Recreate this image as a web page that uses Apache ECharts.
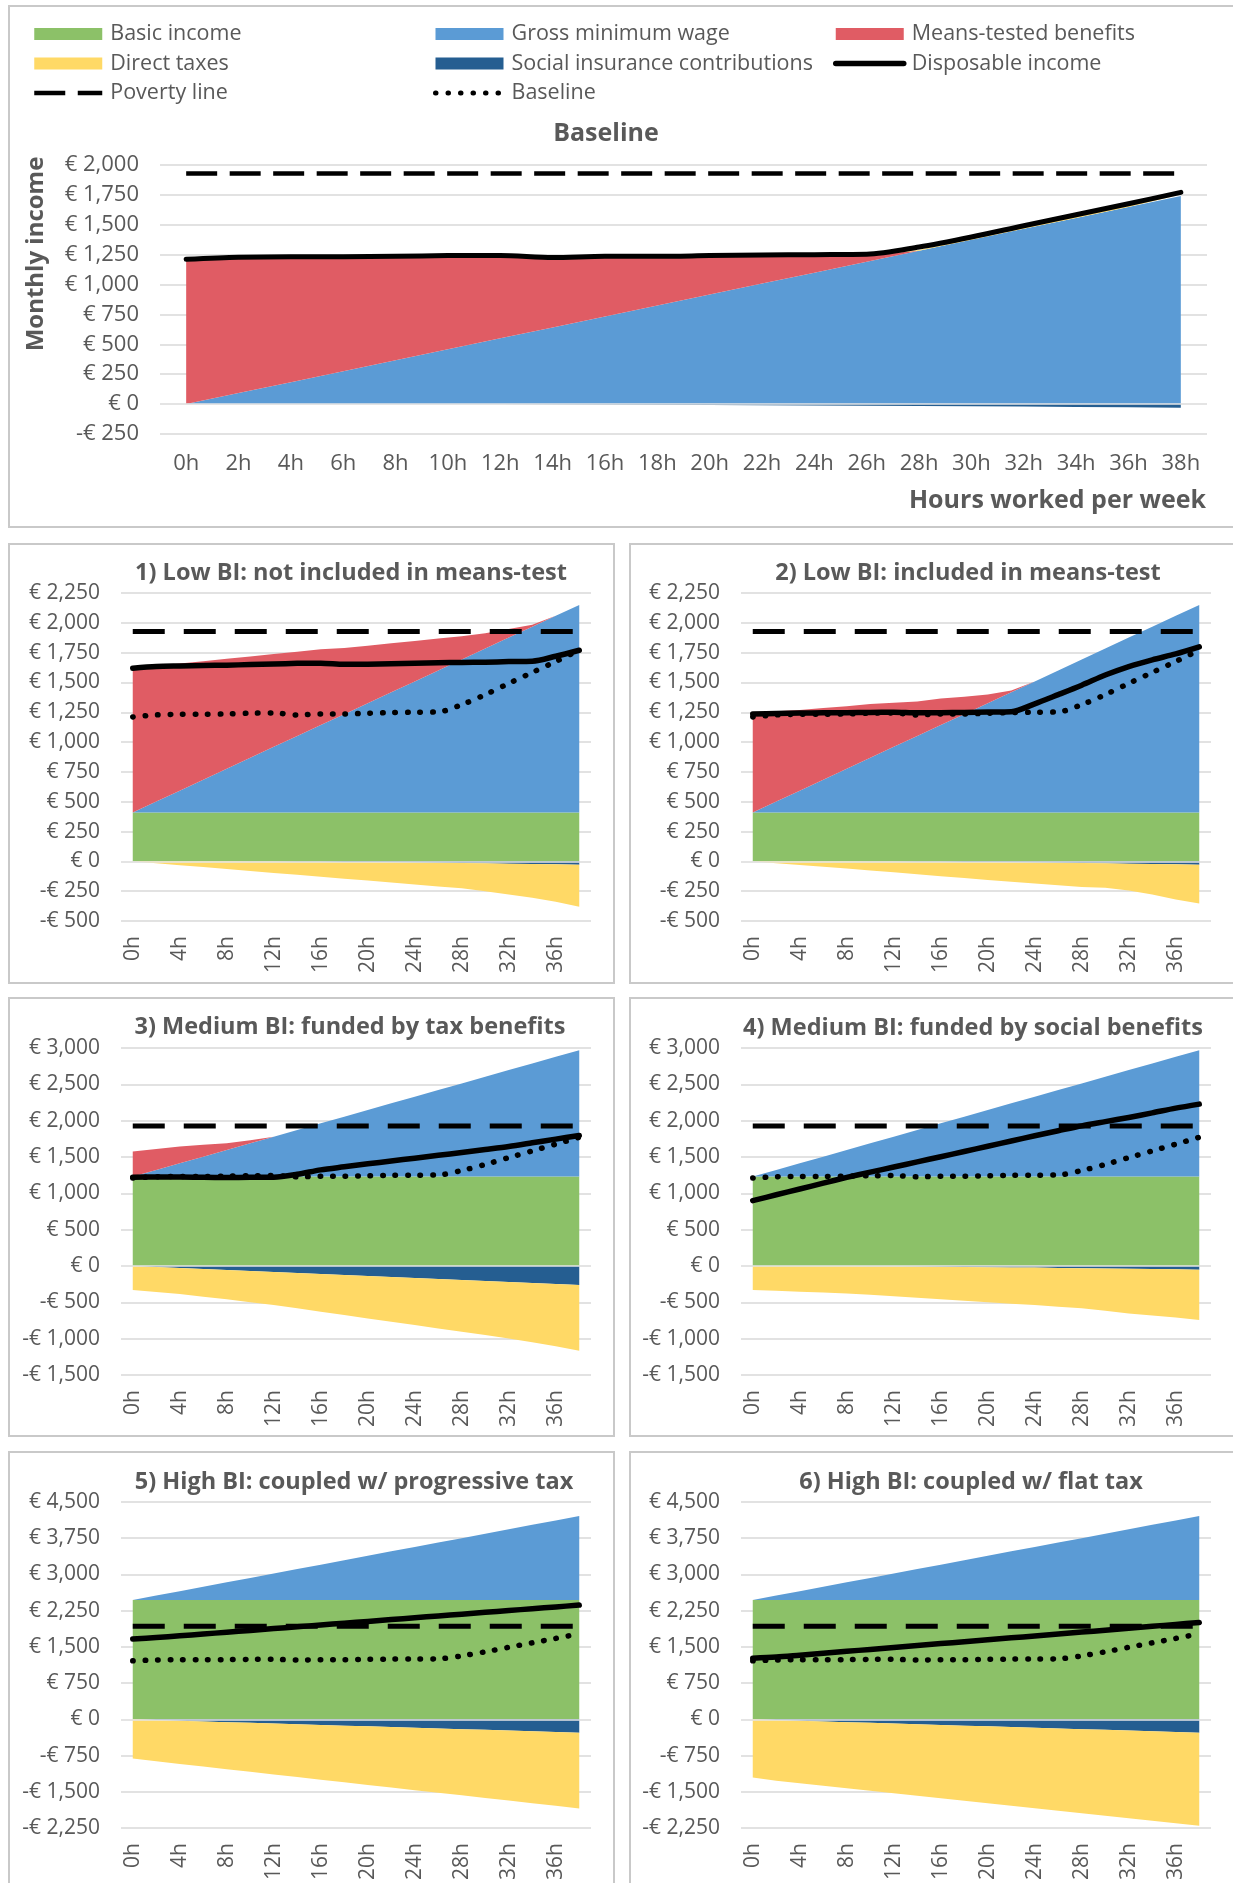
<!DOCTYPE html>
<html>
<head>
<meta charset="utf-8">
<script src="https://cdn.jsdelivr.net/npm/echarts@6/dist/echarts.min.js"></script>
<style>
html,body{margin:0;padding:0;background:#ffffff;}
#chart{width:1233px;height:1883px;}
</style>
</head>
<body>
<div id="chart"></div>
<script>
// ---------------- DATA ----------------
const hours = ['0h','2h','4h','6h','8h','10h','12h','14h','16h','18h','20h','22h','24h','26h','28h','30h','32h','34h','36h','38h'];

const titles = ['Baseline','1) Low BI: not included in means-test','2) Low BI: included in means-test','3) Medium BI: funded by tax benefits','4) Medium BI: funded by social benefits','5) High BI: coupled w/ progressive tax','6) High BI: coupled w/ flat tax'];

const povertyLine = [1928,1928,1928,1928,1928,1928,1928,1928,1928,1928,1928,1928,1928,1928,1928,1928,1928,1928,1928,1928];
const grossWage = [0,92,183,275,366,458,550,641,733,824,916,1008,1099,1191,1282,1374,1466,1557,1649,1740];

// Baseline
const mtb0 = [1205,1131,1045,953,865,779,689,581,498,407,321,234,146,57,0,0,0,0,0,0];
const tax0 = [0,0,0,0,0,0,0,0,0,0,0,0,0,0,8,10,12,12,14,14];
const sic0 = [0,0,0,0,0,0,0,-2,-4,-6,-8,-10,-12,-14,-16,-18,-21,-24,-27,-30];
const di0  = [1211,1228,1233,1233,1236,1242,1244,1227,1236,1236,1242,1247,1250,1253,1314,1398,1492,1584,1676,1771];

// 1) Low BI: not included in means-test
const bi1  = [410,410,410,410,410,410,410,410,410,410,410,410,410,410,410,410,410,410,410,410];
const mtb1 = [1202,1136,1065,993,922,850,778,707,635,554,482,410,339,267,196,129,72,16,0,0];
const sic1 = [0,0,0,0,0,-1,-2,-3,-4,-5,-6,-8,-10,-12,-14,-16,-19,-22,-25,-28];
const tax1 = [0,-16,-32,-48,-65,-80,-95,-110,-125,-140,-155,-170,-184,-198,-212,-234,-258,-283,-314,-353];
const di1  = [1619,1633,1638,1642,1645,1650,1655,1660,1662,1652,1653,1656,1660,1665,1668,1670,1675,1678,1720,1770];

// 2) Low BI: included in means-test
const bi2  = [410,410,410,410,410,410,410,410,410,410,410,410,410,410,410,410,410,410,410,410];
const mtb2 = [835,756,677,600,524,452,370,289,222,146,74,15,0,0,0,0,0,0,0,0];
const sic2 = [0,0,0,0,0,-1,-2,-3,-4,-5,-6,-8,-10,-12,-14,-16,-19,-22,-25,-28];
const tax2 = [0,-15,-30,-45,-60,-75,-90,-105,-120,-135,-150,-163,-176,-189,-200,-205,-225,-255,-295,-325];
const di2  = [1236,1240,1243,1245,1247,1248,1250,1245,1247,1249,1252,1255,1321,1398,1477,1562,1633,1690,1739,1798];

// 3) Medium BI: funded by tax benefits
const bi3  = [1230,1230,1230,1230,1230,1230,1230,1230,1230,1230,1230,1230,1230,1230,1230,1230,1230,1230,1230,1230];
const mtb3 = [346,288,232,163,94,42,0,0,0,0,0,0,0,0,0,0,0,0,0,0];
const sic3 = [0,-14,-28,-41,-55,-69,-83,-97,-110,-124,-138,-152,-165,-179,-193,-207,-221,-234,-248,-262];
const tax3 = [-331,-344,-358,-381,-404,-429,-454,-486,-519,-551,-583,-615,-648,-680,-712,-744,-776,-816,-855,-905];
const di3  = [1222,1225,1225,1220,1218,1220,1222,1262,1323,1365,1406,1445,1484,1523,1562,1603,1645,1695,1746,1796];

// 4) Medium BI: funded by social benefits
const bi4  = [1230,1230,1230,1230,1230,1230,1230,1230,1230,1230,1230,1230,1230,1230,1230,1230,1230,1230,1230,1230];
const sic4 = [0,0,0,0,0,-2,-4,-7,-10,-13,-16,-19,-22,-26,-30,-34,-38,-42,-46,-50];
const tax4 = [-331,-342,-354,-365,-377,-395,-414,-431,-449,-466,-482,-499,-515,-534,-553,-583,-614,-638,-661,-694];
const di4  = [900,980,1059,1140,1219,1291,1362,1433,1504,1575,1648,1720,1792,1861,1929,1987,2044,2107,2172,2228];

// 5) High BI: coupled w/ progressive tax
const bi5  = [2470,2470,2470,2470,2470,2470,2470,2470,2470,2470,2470,2470,2470,2470,2470,2470,2470,2470,2470,2470];
const sic5 = [0,-15,-29,-44,-58,-73,-87,-102,-116,-131,-145,-160,-174,-189,-203,-218,-232,-247,-261,-276];
const tax5 = [-809,-855,-895,-934,-975,-1014,-1054,-1093,-1133,-1173,-1213,-1252,-1292,-1331,-1371,-1411,-1451,-1490,-1530,-1569];
const di5  = [1661,1692,1729,1767,1803,1841,1879,1916,1954,1990,2028,2066,2103,2141,2178,2215,2253,2290,2328,2365];

// 6) High BI: coupled w/ flat tax
const bi6  = [2470,2470,2470,2470,2470,2470,2470,2470,2470,2470,2470,2470,2470,2470,2470,2470,2470,2470,2470,2470];
const sic6 = [0,-15,-29,-44,-58,-73,-87,-102,-116,-131,-145,-160,-174,-189,-203,-218,-232,-247,-261,-276];
const tax6 = [-1203,-1257,-1295,-1332,-1370,-1407,-1444,-1481,-1519,-1556,-1594,-1631,-1668,-1705,-1743,-1780,-1818,-1855,-1892,-1929];
const di6  = [1267,1290,1329,1369,1408,1448,1489,1528,1568,1607,1647,1687,1727,1767,1806,1846,1886,1925,1966,2005];

// y-axis ranges [min, max, interval]
const yRanges = [[-250,2000,250],[-500,2250,250],[-500,2250,250],[-1500,3000,500],[-1500,3000,500],[-2250,4500,750],[-2250,4500,750]];

// ---------------- STYLE / LAYOUT ----------------
const FONT = '"Open Sans", "Noto Sans", sans-serif';
const TXT = '#595959';
const COL = {bi:'#8CC168', wage:'#5B9BD5', mtb:'#E05C64', tax:'#FFD966', sic:'#255E91'};

const panels = [
  {grid:{left:160, top:165, width:1047, height:269}, title:[606,134,25], main:true,  bi:null, mtb:mtb0, sic:sic0, tax:tax0, taxPos:true, di:di0},
  {grid:{left:121, top:593, width:470, height:328}, title:[351,573,23.5], bi:bi1, mtb:mtb1, sic:sic1, tax:tax1, di:di1},
  {grid:{left:741, top:593, width:470, height:328}, title:[968,573,23.5], bi:bi2, mtb:mtb2, sic:sic2, tax:tax2, di:di2},
  {grid:{left:121, top:1048, width:470, height:327}, title:[350,1027,23.5], bi:bi3, mtb:mtb3, sic:sic3, tax:tax3, di:di3},
  {grid:{left:741, top:1048, width:470, height:327}, title:[973,1028,23.5], bi:bi4, mtb:null, sic:sic4, tax:tax4, di:di4},
  {grid:{left:121, top:1502, width:470, height:326}, title:[354,1482,23.5], bi:bi5, mtb:null, sic:sic5, tax:tax5, di:di5},
  {grid:{left:741, top:1502, width:470, height:326}, title:[971,1482,23.5], bi:bi6, mtb:null, sic:sic6, tax:tax6, di:di6}
];

function euro(v){
  const s = String(Math.abs(v)).replace(/\B(?=(\d{3})+(?!\d))/g, ',');
  return (v < 0 ? '-€ ' : '€ ') + s;
}

function areaSeries(name, data, color, stack, i){
  return {name, type:'line', xAxisIndex:i, yAxisIndex:i, data, stack, stackStrategy:'samesign',
    symbol:'none', showSymbol:false, lineStyle:{width:0, color}, itemStyle:{color},
    areaStyle:{color, opacity:1}, silent:true, emphasis:{disabled:true}, z:2};
}
function lineSeries(name, data, i, width, dash, cap, smooth){
  return {name, type:'line', xAxisIndex:i, yAxisIndex:i, data, symbol:'none', showSymbol:false,
    smooth: smooth, itemStyle:{color:'#000'},
    lineStyle:{color:'#000', width, type:dash, cap:cap, join:'round'},
    silent:true, emphasis:{disabled:true}, z:3};
}

const series = [];
panels.forEach((p, i) => {
  if (p.bi)  series.push(areaSeries('Basic income', p.bi, COL.bi, 'pos'+i, i));
  series.push(areaSeries('Gross minimum wage', grossWage, COL.wage, 'pos'+i, i));
  if (p.mtb) series.push(areaSeries('Means-tested benefits', p.mtb, COL.mtb, 'pos'+i, i));
  if (p.taxPos) series.push(areaSeries('Direct taxes', p.tax, COL.tax, 'pos'+i, i));
  series.push(areaSeries('Social insurance contributions', p.sic, COL.sic, 'neg'+i, i));
  if (!p.taxPos) series.push(areaSeries('Direct taxes', p.tax, COL.tax, 'neg'+i, i));
  // zero axis line drawn over areas
  series[series.length-1].markLine = {silent:true, symbol:'none', animation:false,
    label:{show:false}, lineStyle:{color:'#E4E4E4', type:'solid', width:1.5},
    data:[{yAxis:0}]};
  if (p.main) {
    series.push(lineSeries('Poverty line', povertyLine, i, 4.5, [31,12.5], 'butt', false));
    series.push(lineSeries('Disposable income', p.di, i, 5, 'solid', 'round', 0.3));
  } else {
    series.push(lineSeries('Poverty line', povertyLine, i, 5, [32,19], 'butt', false));
    series.push(lineSeries('Disposable income', p.di, i, 5.5, 'solid', 'round', 0.3));
    series.push(lineSeries('Baseline', di0, i, 5.5, [0.5,12], 'round', 0.3));
  }
});

const grids = panels.map(p => Object.assign({}, p.grid));
const xAxes = panels.map((p, i) => ({
  type:'category', gridIndex:i, data:hours, boundaryGap:true,
  axisLine:{show:false, onZero:false}, axisTick:{show:false}, splitLine:{show:false},
  axisLabel:{interval: p.main ? 0 : 1, rotate: p.main ? 0 : 90, margin: p.main ? 19 : 15,
    color:TXT, fontSize: p.main ? 22 : 21, fontFamily:FONT}
}));
const yAxes = panels.map((p, i) => ({
  type:'value', gridIndex:i, min:yRanges[i][0], max:yRanges[i][1], interval:yRanges[i][2],
  axisLine:{show:false}, axisTick:{show:false},
  splitLine:{show:true, lineStyle:{color:'#D9D9D9', width:1.5}},
  axisLabel:{formatter:euro, margin:21, color:TXT, fontSize: p.main ? 22 : 21, fontFamily:FONT}
}));
const titleList = panels.map((p, i) => ({
  text:titles[i], left:p.title[0], top:p.title[1], textAlign:'center', textVerticalAlign:'middle', padding:0,
  textStyle:{fontSize:p.title[2], fontWeight:'bold', color:TXT, fontFamily:FONT}
}));

const legendCommon = {orient:'vertical', top:23, itemGap:7.5, itemWidth:68, itemHeight:12, padding:0,
  selectedMode:false, textStyle:{color:TXT, fontSize:21.5, fontFamily:FONT, padding:[0,0,0,3]}};
const lineLegendItem = (name, w) => ({name, itemStyle:{opacity:0}, lineStyle:{width:w}});
const legends = [
  Object.assign({left:32, data:[{name:'Basic income', icon:'rect'}, {name:'Direct taxes', icon:'rect'}, lineLegendItem('Poverty line', 4.5)]}, legendCommon),
  Object.assign({left:433, data:[{name:'Gross minimum wage', icon:'rect'}, {name:'Social insurance contributions', icon:'rect'}, lineLegendItem('Baseline', 5)]}, legendCommon),
  Object.assign({left:833, data:[{name:'Means-tested benefits', icon:'rect'}, lineLegendItem('Disposable income', 5.5)]}, legendCommon)
];

const BORDER = {fill:'none', stroke:'#C9C9C9', lineWidth:2};
const boxes = [[9,6,1240,521],[9,544,605,439],[630,544,620,439],[9,998,605,438],[630,998,620,438],[9,1452,605,460],[630,1452,620,460]];
const graphics = boxes.map(b => ({type:'rect', silent:true, z:-10, shape:{x:b[0], y:b[1], width:b[2], height:b[3]}, style:BORDER}));
graphics.push({type:'text', silent:true, x:36, y:254, rotation:Math.PI/2,
  style:{text:'Monthly income', fill:TXT, font:'bold 24px "Open Sans", sans-serif', align:'center', verticalAlign:'middle'}});
graphics.push({type:'text', silent:true, x:1206, y:501,
  style:{text:'Hours worked per week', fill:TXT, font:'bold 25px "Open Sans", sans-serif', align:'right', verticalAlign:'middle'}});

const chart = echarts.init(document.getElementById('chart'), null, {renderer:'canvas'});
chart.setOption({
  animation:false,
  backgroundColor:'#ffffff',
  title:titleList,
  legend:legends,
  grid:grids,
  xAxis:xAxes,
  yAxis:yAxes,
  graphic:graphics,
  series:series
});
</script>
</body>
</html>
